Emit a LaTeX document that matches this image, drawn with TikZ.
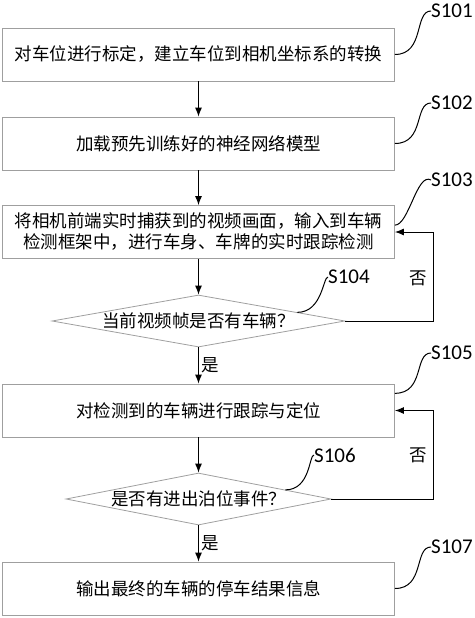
\documentclass[tikz,border=0pt]{standalone}
\usepackage{fontspec}
\newfontfamily\cjk{Noto Sans CJK SC}
\newfontfamily\lab{Carlito}
\usetikzlibrary{shapes,arrows.meta,positioning,calc}

\begin{document}
\begin{tikzpicture}[
  x=1pt,y=-1pt,
  every node/.style={font=\cjk\fontsize{17.5}{21}\selectfont},
  box/.style={draw=gray!75,line width=0.8pt,rectangle,minimum width=392pt,minimum height=53pt,inner sep=1pt,align=center},
  dia/.style={draw=gray!75,line width=0.8pt,diamond,inner sep=0pt,minimum height=52pt},
  steplab/.style={font=\lab\fontsize{21}{21}\selectfont,inner sep=0pt,anchor=west},
  flow/.style={-{Latex[length=9pt,width=7pt]},line width=1pt},
  lead/.style={line width=1pt},
]
\useasboundingbox (0,0) rectangle (474,618);

% main column
\node[box] (b1) at (198.5,54.5) {对车位进行标定，建立车位到相机坐标系的转换};
\node[box] (b2) at (198.5,143.5) {加载预先训练好的神经网络模型};
\node[box] (b3) at (198.5,232) {将相机前端实时捕获到的视频画面，输入到车辆\\检测框架中，进行车身、车牌的实时跟踪检测};
\node[dia,aspect=5.6,minimum width=293pt] (d1) at (198.5,321) {当前视频帧是否有车辆？};
\node[box] (b4) at (198.5,410.5) {对检测到的车辆进行跟踪与定位};
\node[dia,aspect=5.1,minimum width=265pt] (d2) at (198.5,499) {是否有进出泊位事件？};
\node[box] (b5) at (198.5,588.5) {输出最终的车辆的停车结果信息};

\draw[flow] (b1) -- (b2);
\draw[flow] (b2) -- (b3);
\draw[flow] (b3) -- (d1);
\draw[flow] (d1) -- node[right,inner sep=2pt] (yes1) {是} (b4);
\draw[flow] (b4) -- (d2);
\draw[flow] (d2) -- node[right,inner sep=2pt] (yes2) {是} (b5);

% loops back
\coordinate (k1) at (433,232);
\coordinate (k2) at (433,410.5);
\draw[flow] (d1.east) -| (k1) -- (b3.east);
\draw[flow] (d2.east) -| (k2) -- (b4.east);
\node (no1) at (418,278) {否};
\node (no2) at (418,455) {否};

% step labels
\node[steplab] (s101) at (431,11) {S101};
\node[steplab] (s102) at (431,103) {S102};
\node[steplab] (s103) at (431,180) {S103};
\node[steplab] (s104) at (328,277) {S104};
\node[steplab] (s105) at (431,353) {S105};
\node[steplab] (s106) at (314,455) {S106};
\node[steplab] (s107) at (431,547) {S107};

\draw[lead] (b1.east) .. controls +(30,0) and +(-17,0) .. (s101.west);
\draw[lead] (b2.east) .. controls +(30,0) and +(-17,0) .. (s102.west);
\draw[lead] (b3.2.6) .. controls +(14,0) and +(-14,-8) .. (s103.west);
\draw[lead] (d1.5.2) .. controls +(25,0) and +(-5,0) .. (s104.west);
\draw[lead] (b4.5.1) .. controls +(30,0) and +(-17,0) .. (s105.west);
\draw[lead] (d2.6.5) .. controls +(25,0) and +(-5,0) .. (s106.west);
\draw[lead] (b5.east) .. controls +(30,0) and +(-17,0) .. (s107.west);

\end{tikzpicture}
\end{document}
